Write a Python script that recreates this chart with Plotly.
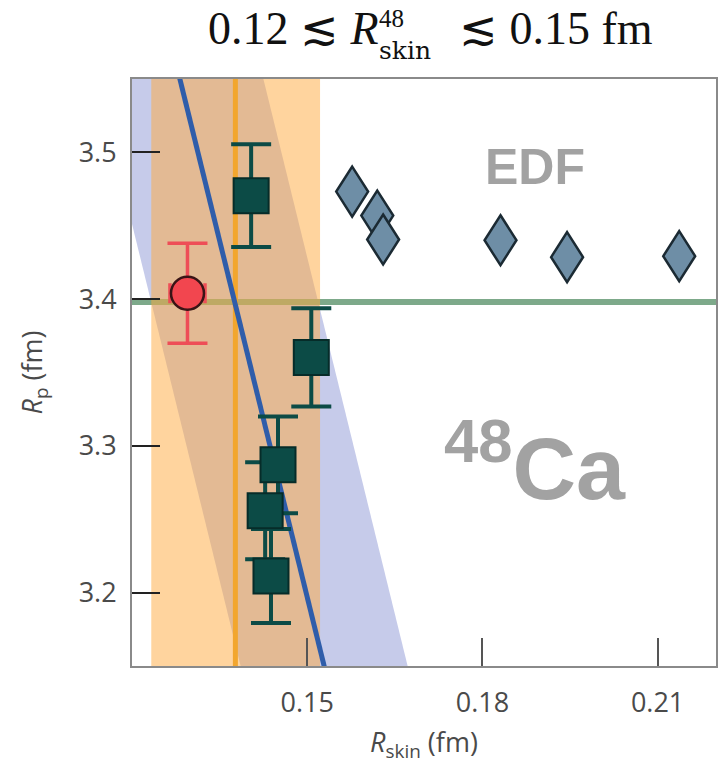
import plotly.graph_objects as go

# ---------------- data ----------------
# ab-initio points (squares) with vertical errors
sq_x = [0.1404, 0.1507, 0.1450, 0.1428, 0.1438]
sq_y = [3.4705, 3.3603, 3.2871, 3.2558, 3.2113]
sq_err = [0.035, 0.0335, 0.033, 0.033, 0.032]

# red point with errors
red_x = [0.1295]
red_y = [3.404]
red_xerr = [0.0030]
red_yerr = [0.034]

# EDF diamonds
edf_x = [0.1577, 0.1620, 0.1630, 0.1831, 0.1945, 0.2137]
edf_y = [3.4733, 3.4569, 3.4406, 3.4401, 3.4286, 3.4293]

# bands / lines
orange_band = [0.1233, 0.1522]
orange_center = [0.1377]
green_level = [3.398]
blue_line_x = [0.1282, 0.1529]
blue_line_y = [3.55, 3.15]
blue_band_halfwidth = [0.0143]

x_range = [0.12, 0.22]
y_range = [3.15, 3.55]
x_ticks = [0.15, 0.18, 0.21]
x_ticklabels = ["0.15", "0.18", "0.21"]
y_ticks = [3.2, 3.3, 3.4, 3.5]
y_ticklabels = ["3.2", "3.3", "3.4", "3.5"]

# ---------------- geometry helpers ----------------
W, H = 722, 771
L, R, T, B = 132, 4, 79, 105
pw, ph = W - L - R, H - T - B
x_per_px = (x_range[1] - x_range[0]) / pw
y_per_px = (y_range[1] - y_range[0]) / ph


def px_to_paper(px, py):
    return (px - L) / pw, (H - B - py) / ph


def blue_x_at(y):
    x0, x1 = blue_line_x
    y0, y1 = blue_line_y
    return x0 + (y - y0) * (x1 - x0) / (y1 - y0)


ylo, yhi = 3.0, 3.7
hw = blue_band_halfwidth[0]
lav_x = [blue_x_at(ylo) - hw, blue_x_at(ylo) + hw, blue_x_at(yhi) + hw, blue_x_at(yhi) - hw, blue_x_at(ylo) - hw]
lav_y = [ylo, ylo, yhi, yhi, ylo]

fig = go.Figure()

# lavender band
fig.add_trace(go.Scatter(x=lav_x, y=lav_y, mode="lines", fill="toself",
                         fillcolor="#C6CBEA", line=dict(width=0), hoverinfo="skip",
                         showlegend=False))
# green horizontal line
fig.add_trace(go.Scatter(x=[x_range[0] - 0.01, x_range[1] + 0.01], y=[green_level[0]] * 2,
                         mode="lines", line=dict(color="#7DA98A", width=6),
                         showlegend=False, hoverinfo="skip"))
# orange band (semi-transparent)
fig.add_trace(go.Scatter(x=[orange_band[0], orange_band[1], orange_band[1], orange_band[0], orange_band[0]],
                         y=[ylo, ylo, yhi, yhi, ylo], mode="lines", fill="toself",
                         fillcolor="rgba(255,169,61,0.5)", line=dict(width=0),
                         showlegend=False, hoverinfo="skip"))
# orange central line
fig.add_trace(go.Scatter(x=[orange_center[0]] * 2, y=[ylo, yhi], mode="lines",
                         line=dict(color="#F2A62E", width=5), showlegend=False, hoverinfo="skip"))
# blue line
fig.add_trace(go.Scatter(x=[blue_x_at(ylo), blue_x_at(yhi)], y=[ylo, yhi], mode="lines",
                         line=dict(color="#2F5DAA", width=5), showlegend=False, hoverinfo="skip"))

# squares
fig.add_trace(go.Scatter(x=sq_x, y=sq_y, mode="markers",
                         marker=dict(symbol="square", size=35, color="#0C4B46",
                                     line=dict(color="#062C29", width=2)),
                         error_y=dict(type="data", array=sq_err, color="#0C4B46",
                                      thickness=4, width=20),
                         showlegend=False))
# red point
fig.add_trace(go.Scatter(x=red_x, y=red_y, mode="markers",
                         marker=dict(symbol="circle", size=33, color="#F2464F",
                                     line=dict(color="#3A1416", width=2.5)),
                         error_y=dict(type="data", array=red_yerr, color="#EE4E57",
                                      thickness=3.5, width=20),
                         error_x=dict(type="data", array=red_xerr, color="#EE4E57",
                                      thickness=3.5, width=10),
                         showlegend=False))
# EDF points: invisible hover trace + tall diamond glyphs drawn in data coordinates
fig.add_trace(go.Scatter(x=edf_x, y=edf_y, mode="markers",
                         marker=dict(size=1, color="rgba(0,0,0,0)"), showlegend=False))
dia_dx = 16 * x_per_px
dia_dy = 25 * y_per_px
shapes = []
for ex, ey in zip(edf_x, edf_y):
    path = (f"M {ex},{ey + dia_dy} L {ex + dia_dx},{ey} L {ex},{ey - dia_dy} "
            f"L {ex - dia_dx},{ey} Z")
    shapes.append(dict(type="path", path=path, xref="x", yref="y", layer="above",
                       fillcolor="#6E8EA6", line=dict(color="#1B2A33", width=2.5)))

axis_common = dict(showgrid=False, zeroline=False, mirror=True, showline=True,
                   linecolor="#8A8A8A", linewidth=2, ticks="inside", ticklen=28,
                   tickwidth=1.5,
                   tickfont=dict(family="Open Sans", size=27, color="#4A4A4A"))

fig.update_xaxes(range=x_range, tickvals=x_ticks, ticktext=x_ticklabels,
                 tickcolor="#555555", ticklabelstandoff=12,
                 title=dict(text="<i>R</i><sub>skin</sub> (fm)", standoff=14,
                            font=dict(family="Open Sans", size=27, color="#4A4A4A")),
                 **axis_common)
fig.update_yaxes(range=y_range, tickvals=y_ticks, ticktext=y_ticklabels,
                 tickcolor="#222222", ticklabelstandoff=8,
                 title=dict(text="<i>R</i><sub>p</sub> (fm)", standoff=28,
                            font=dict(family="Open Sans", size=27, color="#4A4A4A")),
                 **axis_common)

annotations = []
# EDF and 48Ca labels
annotations.append(dict(x=0.189, y=3.490, xref="x", yref="y", text="<b>EDF</b>",
                        showarrow=False, font=dict(family="Liberation Sans", size=50, color="#A2A2A2")))
annotations.append(dict(x=0.189, y=3.289, xref="x", yref="y", text="<b><sup>48</sup>Ca</b>",
                        showarrow=False, font=dict(family="Liberation Sans", size=88, color="#A2A2A2")))

# title pieces
serif = "Liberation Serif, DejaVu Serif"
ax_, ay_ = px_to_paper(382, 29)
annotations.append(dict(x=ax_, y=ay_, xref="paper", yref="paper", xanchor="right", yanchor="middle",
                        text="0.12 ≲ <i>R</i>", showarrow=False,
                        font=dict(family=serif, size=46, color="#111111")))
bx_, by_ = px_to_paper(378, 51)
annotations.append(dict(x=bx_, y=by_, xref="paper", yref="paper", xanchor="left", yanchor="middle",
                        text="skin", showarrow=False,
                        font=dict(family="DejaVu Serif", size=25, color="#111111")))
cx_, cy_ = px_to_paper(378, 19)
annotations.append(dict(x=cx_, y=cy_, xref="paper", yref="paper", xanchor="left", yanchor="middle",
                        text="48", showarrow=False,
                        font=dict(family=serif, size=25, color="#111111")))
dx_, dy_ = px_to_paper(458, 29)
annotations.append(dict(x=dx_, y=dy_, xref="paper", yref="paper", xanchor="left", yanchor="middle",
                        text="≲ 0.15 fm", showarrow=False,
                        font=dict(family=serif, size=46, color="#111111")))

fig.update_layout(width=W, height=H, margin=dict(l=L, r=R, t=T, b=B),
                  plot_bgcolor="white", paper_bgcolor="white",
                  annotations=annotations, shapes=shapes, showlegend=False)

fig.write_html("out.html")
